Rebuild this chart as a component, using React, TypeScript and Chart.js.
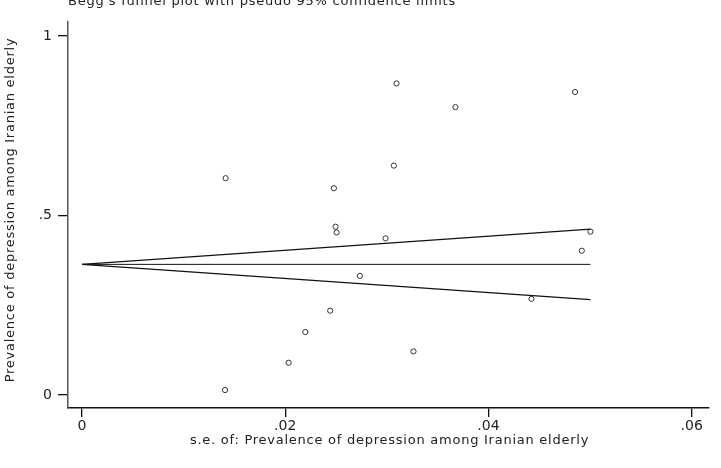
import React, { useEffect, useRef } from "react";
import { Chart, registerables } from "chart.js";

Chart.register(...registerables);

// Study points: standard error (x) and prevalence (y)
const seValues = [
  0.03095, 0.03675, 0.01413, 0.03069, 0.02479, 0.02495, 0.02505, 0.02987, 0.04852,
  0.05003, 0.04918, 0.02734, 0.04423, 0.02442, 0.02197, 0.03262, 0.02033, 0.01407,
];
const prevalenceValues = [
  0.868, 0.802, 0.604, 0.639, 0.576, 0.469, 0.453, 0.4365, 0.844,
  0.455, 0.402, 0.332, 0.268, 0.235, 0.1755, 0.1217, 0.09, 0.014,
];

// Pooled estimate and pseudo 95% limits (at s.e. = 0 and at the largest s.e.)
const limitSe = [0, 0.05003];
const pooledLine = [0.364, 0.364];
const upperLimit = [0.364, 0.462];
const lowerLimit = [0.364, 0.266];

const xTickValues = [0, 0.02, 0.04, 0.06];
const xTickLabels = ["0", ".02", ".04", ".06"];
const yTickValues = [0, 0.5, 1];
const yTickLabels = ["0", ".5", "1"];

const chartTitle = "Begg's funnel plot with pseudo 95% confidence limits";
const xTitle = "s.e. of: Prevalence of depression among Iranian elderly";
const yTitle = "Prevalence of depression among Iranian elderly";

const FONT = "'DejaVu Sans', sans-serif";

export default function App() {
  const ref = useRef<HTMLCanvasElement | null>(null);

  useEffect(() => {
    if (!ref.current) return;
    const toXY = (xs: number[], ys: number[]) => xs.map((x, i) => ({ x, y: ys[i] }));

    const titlePlugin = {
      id: "textTitles",
      afterDraw(chart: any) {
        const ctx = chart.ctx;
        const area = chart.chartArea;
        ctx.save();
        ctx.font = `13px ${FONT}`;
        ctx.fillStyle = "#222";
        (ctx as any).letterSpacing = "0.75px";
        // chart title
        ctx.textAlign = "left";
        ctx.textBaseline = "alphabetic";
        ctx.fillText(chartTitle, area.left, 5);
        // x title
        ctx.textAlign = "center";
        ctx.textBaseline = "middle";
        ctx.fillText(xTitle, (area.left + area.right) / 2 + 1, 441);
        // y title
        ctx.translate(11, (area.top + area.bottom) / 2 - 5);
        ctx.rotate(-Math.PI / 2);
        ctx.fillText(yTitle, 0, 0);
        ctx.restore();
      },
    };

    const chart = new Chart(ref.current, {
      type: "scatter",
      data: {
        datasets: [
          {
            type: "line",
            data: toXY(limitSe, pooledLine),
            borderColor: "#111",
            borderWidth: 1,
            pointRadius: 0,
            fill: false,
          } as any,
          {
            type: "line",
            data: toXY(limitSe, upperLimit),
            borderColor: "#111",
            borderWidth: 1.2,
            pointRadius: 0,
            fill: false,
          } as any,
          {
            type: "line",
            data: toXY(limitSe, lowerLimit),
            borderColor: "#111",
            borderWidth: 1.2,
            pointRadius: 0,
            fill: false,
          } as any,
          {
            data: toXY(seValues, prevalenceValues),
            pointStyle: "circle",
            pointRadius: 2.6,
            borderColor: "#333",
            backgroundColor: "rgba(255,255,255,0)",
            borderWidth: 1,
          },
        ],
      },
      options: {
        animation: false,
        responsive: false,
        layout: { padding: { left: 0, top: 22, right: 12, bottom: 0 } },
        plugins: { legend: { display: false }, tooltip: { enabled: false }, title: { display: false } },
        scales: {
          x: {
            type: "linear",
            min: -0.00138,
            max: 0.0617,
            afterFit: (s: any) => {
              s.height = 60;
            },
            afterBuildTicks: (s: any) => {
              s.ticks = xTickValues.map((v) => ({ value: v }));
            },
            ticks: {
              callback: (v: any) => xTickLabels[xTickValues.indexOf(Number(v))] ?? "",
              font: { family: FONT, size: 14 },
              color: "#222",
              padding: 1,
              maxRotation: 0,
            },
            grid: { display: true, drawOnChartArea: false, drawTicks: true, tickLength: 9, color: "#111", lineWidth: 1.3 },
            border: { display: true, color: "#111", width: 1.5 },
          },
          y: {
            type: "linear",
            min: -0.036,
            max: 1.039,
            afterFit: (s: any) => {
              s.width = 68;
            },
            afterBuildTicks: (s: any) => {
              s.ticks = yTickValues.map((v) => ({ value: v }));
            },
            ticks: {
              callback: (v: any) => yTickLabels[yTickValues.indexOf(Number(v))] ?? "",
              font: { family: FONT, size: 14 },
              color: "#222",
              padding: 6,
            },
            grid: { display: true, drawOnChartArea: false, drawTicks: true, tickLength: 10, color: "#111", lineWidth: 1.3 },
            border: { display: true, color: "#555", width: 1.5 },
          },
        },
      },
      plugins: [titlePlugin],
    } as any);

    return () => chart.destroy();
  }, []);

  return (
    <div style={{ position: "fixed", left: 0, top: 0, width: 721, height: 468, background: "#fff" }}>
      <canvas ref={ref} width={721} height={468} style={{ display: "block" }} />
    </div>
  );
}
